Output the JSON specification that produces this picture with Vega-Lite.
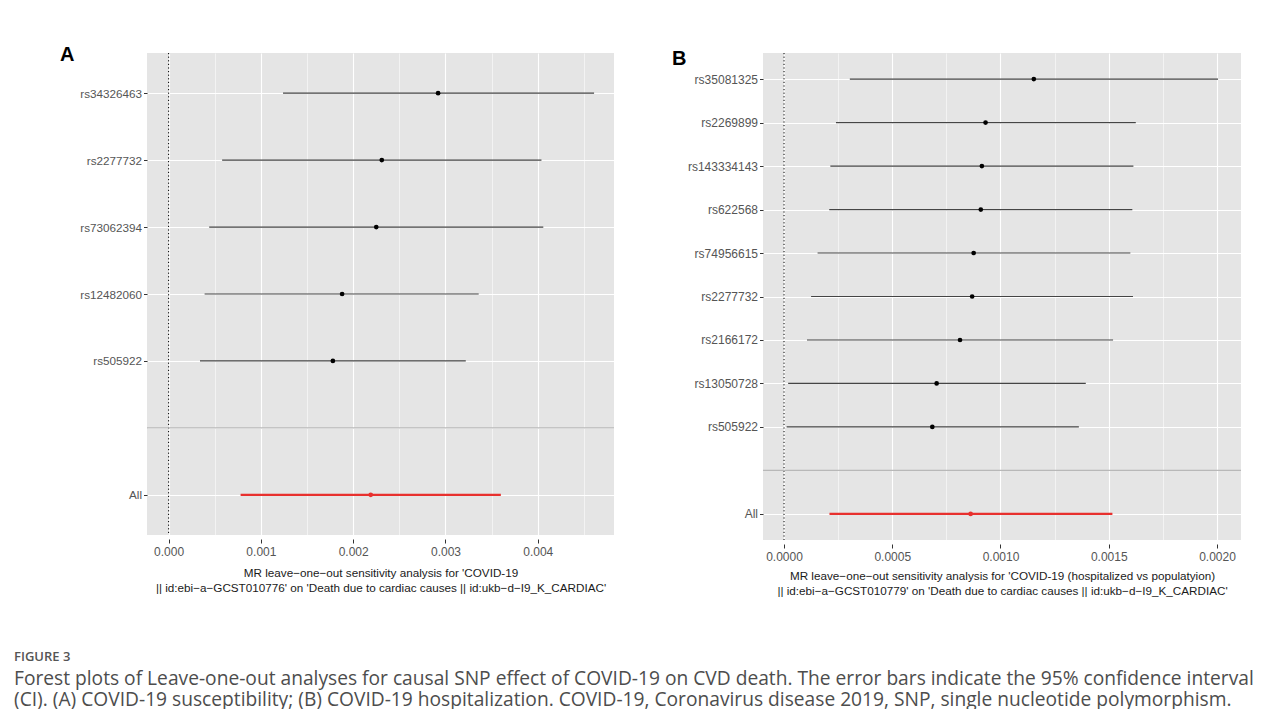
{
  "$schema": "https://vega.github.io/schema/vega-lite/v6.json",
  "background": "white",
  "padding": {"left": 14, "top": 44, "right": 0, "bottom": 0},
  "autosize": {"type": "pad"},
  "config": {
    "font": "Liberation Sans",
    "view": {"fill": "#E5E5E5", "stroke": null},
    "axis": {
      "domain": false,
      "grid": true,
      "gridColor": "#FFFFFF",
      "tickColor": "#333333",
      "labelColor": "#555555",
      "labelFont": "Liberation Sans",
      "titleFont": "Liberation Sans",
      "titleFontWeight": "normal",
      "titleColor": "#1a1a1a"
    },
    "title": {"font": "Liberation Sans", "color": "#000000"}
  },
  "datasets": {
    "a": [
      {"SNP": "rs34326463", "b": 0.00292, "lo": 0.00124, "hi": 0.00461, "group": "SNP"},
      {"SNP": "rs2277732", "b": 0.00231, "lo": 0.00058, "hi": 0.00404, "group": "SNP"},
      {"SNP": "rs73062394", "b": 0.00225, "lo": 0.00044, "hi": 0.00406, "group": "SNP"},
      {"SNP": "rs12482060", "b": 0.00188, "lo": 0.00039, "hi": 0.00336, "group": "SNP"},
      {"SNP": "rs505922", "b": 0.00178, "lo": 0.00034, "hi": 0.00322, "group": "SNP"},
      {"SNP": "All", "b": 0.00219, "lo": 0.00078, "hi": 0.0036, "group": "All"}
    ],
    "b": [
      {"SNP": "rs35081325", "b": 0.001154, "lo": 0.000304, "hi": 0.002005, "group": "SNP"},
      {"SNP": "rs2269899", "b": 0.000931, "lo": 0.00024, "hi": 0.001625, "group": "SNP"},
      {"SNP": "rs143334143", "b": 0.000914, "lo": 0.000214, "hi": 0.001614, "group": "SNP"},
      {"SNP": "rs622568", "b": 0.000909, "lo": 0.000209, "hi": 0.001609, "group": "SNP"},
      {"SNP": "rs74956615", "b": 0.000876, "lo": 0.000155, "hi": 0.0016, "group": "SNP"},
      {"SNP": "rs2277732", "b": 0.000869, "lo": 0.000125, "hi": 0.001612, "group": "SNP"},
      {"SNP": "rs2166172", "b": 0.000813, "lo": 0.000106, "hi": 0.00152, "group": "SNP"},
      {"SNP": "rs13050728", "b": 0.000705, "lo": 0.000019, "hi": 0.001394, "group": "SNP"},
      {"SNP": "rs505922", "b": 0.000685, "lo": 0.000012, "hi": 0.001362, "group": "SNP"},
      {"SNP": "All", "b": 0.000862, "lo": 0.00021, "hi": 0.001517, "group": "All"}
    ]
  },
  "title": {
    "text": "FIGURE 3",
    "subtitle": [
      "Forest plots of Leave-one-out analyses for causal SNP effect of COVID-19 on CVD death. The error bars indicate the 95% confidence interval",
      "(CI). (A) COVID-19 susceptibility; (B) COVID-19 hospitalization. COVID-19, Coronavirus disease 2019, SNP, single nucleotide polymorphism."
    ],
    "orient": "bottom",
    "anchor": "start",
    "frame": "bounds",
    "dx": -46,
    "offset": 54,
    "font": "Open Sans",
    "fontSize": 13,
    "fontWeight": 600,
    "color": "#555555",
    "subtitleFont": "Open Sans",
    "subtitleFontSize": 19.2,
    "subtitleColor": "#4d4d4d",
    "subtitleLineHeight": 21.5,
    "subtitlePadding": 6
  },
  "spacing": 57,
  "hconcat": [
    {
      "width": 467,
      "height": 482,
      "title": {"text": "A", "anchor": "start", "frame": "group", "dx": -87, "offset": -12, "fontSize": 20, "fontWeight": "bold"},
      "data": {"name": "a"},
      "layer": [
        {
          "transform": [{"filter": "datum.SNP == 'All'"}],
          "mark": {"type": "rule", "color": "#000000", "strokeWidth": 1, "strokeDash": [1.2, 2.4]},
          "encoding": {
            "x": {"datum": 0, "type": "quantitative", "scale": {"domain": [-0.000234, 0.004826], "nice": false, "zero": false}}
          }
        },
        {
          "mark": {"type": "rule"},
          "encoding": {
            "y": {"field": "SNP", "type": "nominal", "title": null,
              "scale": {"type": "point", "padding": 0.6, "domain": ["rs34326463", "rs2277732", "rs73062394", "rs12482060", "rs505922", "", "All"]},
              "axis": {"labelFontSize": 11.7, "tickSize": 3.5, "labelPadding": 2, "gridWidth": 1.1,
                "tickOpacity": {"condition": {"test": "datum.value === ''", "value": 0}, "value": 1}}},
            "x": {"field": "lo", "type": "quantitative",
              "scale": {"domain": [-0.000234, 0.004826], "nice": false, "zero": false},
              "axis": {
                "title": ["MR leave−one−out sensitivity analysis for 'COVID-19", "|| id:ebi−a−GCST010776' on 'Death due to cardiac causes || id:ukb−d−I9_K_CARDIAC'"],
                "values": [0, 0.0005, 0.001, 0.0015, 0.002, 0.0025, 0.003, 0.0035, 0.004, 0.0045],
                "labelExpr": "abs(datum.value*1000 - round(datum.value*1000)) < 0.01 ? format(datum.value, '.3f') : ''",
                "labelFlush": false,
                "labelOverlap": false,
                "labelFontSize": 12,
                "labelPadding": 3,
                "offset": 4,
                "tickSize": 4,
                "tickOpacity": {"condition": {"test": "abs(datum.value*1000 - round(datum.value*1000)) < 0.01", "value": 1}, "value": 0},
                "gridWidth": {"condition": {"test": "abs(datum.value*1000 - round(datum.value*1000)) < 0.01", "value": 1.1}, "value": 0.55},
                "titleFontSize": 11.7,
                "titleLineHeight": 15.5,
                "titlePadding": 10
              }},
            "x2": {"field": "hi"},
            "stroke": {"field": "group", "type": "nominal", "scale": {"domain": ["SNP", "All"], "range": ["#454545", "#E8302E"]}, "legend": null},
            "strokeWidth": {"field": "group", "type": "ordinal", "scale": {"domain": ["SNP", "All"], "range": [1.2, 2.4]}, "legend": null}
          }
        },
        {
          "mark": {"type": "circle", "size": 22, "opacity": 1},
          "encoding": {
            "y": {"field": "SNP", "type": "nominal", "scale": {"type": "point", "padding": 0.6, "domain": ["rs34326463", "rs2277732", "rs73062394", "rs12482060", "rs505922", "", "All"]}},
            "x": {"field": "b", "type": "quantitative", "scale": {"domain": [-0.000234, 0.004826], "nice": false, "zero": false}},
            "fill": {"field": "group", "type": "nominal", "scale": {"domain": ["SNP", "All"], "range": ["#000000", "#E8302E"]}, "legend": null}
          }
        },
        {
          "transform": [{"filter": "datum.SNP == 'All'"}],
          "mark": {"type": "rule", "color": "#B8B8B8", "strokeWidth": 1.2},
          "encoding": {
            "y": {"datum": "", "type": "nominal", "scale": {"type": "point", "padding": 0.6, "domain": ["rs34326463", "rs2277732", "rs73062394", "rs12482060", "rs505922", "", "All"]}}
          }
        }
      ]
    },
    {
      "width": 478,
      "height": 487,
      "title": {"text": "B", "anchor": "start", "frame": "group", "dx": -91, "offset": -16, "fontSize": 20, "fontWeight": "bold"},
      "data": {"name": "b"},
      "layer": [
        {
          "transform": [{"filter": "datum.SNP == 'All'"}],
          "mark": {"type": "rule", "color": "#000000", "strokeWidth": 1, "strokeDash": [1.2, 2.4]},
          "encoding": {
            "x": {"datum": 0, "type": "quantitative", "scale": {"domain": [-0.0000971, 0.002111], "nice": false, "zero": false}}
          }
        },
        {
          "mark": {"type": "rule"},
          "encoding": {
            "y": {"field": "SNP", "type": "nominal", "title": null,
              "scale": {"type": "point", "padding": 0.6, "domain": ["rs35081325", "rs2269899", "rs143334143", "rs622568", "rs74956615", "rs2277732", "rs2166172", "rs13050728", "rs505922", "", "All"]},
              "axis": {"labelFontSize": 12, "tickSize": 3.5, "labelPadding": 2, "gridWidth": 1.1,
                "tickOpacity": {"condition": {"test": "datum.value === ''", "value": 0}, "value": 1}}},
            "x": {"field": "lo", "type": "quantitative",
              "scale": {"domain": [-0.0000971, 0.002111], "nice": false, "zero": false},
              "axis": {
                "title": ["MR leave−one−out sensitivity analysis for 'COVID-19 (hospitalized vs populatyion)", "|| id:ebi−a−GCST010779' on 'Death due to cardiac causes || id:ukb−d−I9_K_CARDIAC'"],
                "values": [0, 0.00025, 0.0005, 0.00075, 0.001, 0.00125, 0.0015, 0.00175, 0.002],
                "labelExpr": "abs(datum.value*2000 - round(datum.value*2000)) < 0.01 ? format(datum.value, '.4f') : ''",
                "labelFlush": false,
                "labelOverlap": false,
                "labelFontSize": 12,
                "labelPadding": 3,
                "offset": 4,
                "tickSize": 4,
                "tickOpacity": {"condition": {"test": "abs(datum.value*2000 - round(datum.value*2000)) < 0.01", "value": 1}, "value": 0},
                "gridWidth": {"condition": {"test": "abs(datum.value*2000 - round(datum.value*2000)) < 0.01", "value": 1.1}, "value": 0.55},
                "titleFontSize": 11.7,
                "titleLineHeight": 15,
                "titlePadding": 8
              }},
            "x2": {"field": "hi"},
            "stroke": {"field": "group", "type": "nominal", "scale": {"domain": ["SNP", "All"], "range": ["#454545", "#E8302E"]}, "legend": null},
            "strokeWidth": {"field": "group", "type": "ordinal", "scale": {"domain": ["SNP", "All"], "range": [1.2, 2.4]}, "legend": null}
          }
        },
        {
          "mark": {"type": "circle", "size": 22, "opacity": 1},
          "encoding": {
            "y": {"field": "SNP", "type": "nominal", "scale": {"type": "point", "padding": 0.6, "domain": ["rs35081325", "rs2269899", "rs143334143", "rs622568", "rs74956615", "rs2277732", "rs2166172", "rs13050728", "rs505922", "", "All"]}},
            "x": {"field": "b", "type": "quantitative", "scale": {"domain": [-0.0000971, 0.002111], "nice": false, "zero": false}},
            "fill": {"field": "group", "type": "nominal", "scale": {"domain": ["SNP", "All"], "range": ["#000000", "#E8302E"]}, "legend": null}
          }
        },
        {
          "transform": [{"filter": "datum.SNP == 'All'"}],
          "mark": {"type": "rule", "color": "#B8B8B8", "strokeWidth": 1.2},
          "encoding": {
            "y": {"datum": "", "type": "nominal", "scale": {"type": "point", "padding": 0.6, "domain": ["rs35081325", "rs2269899", "rs143334143", "rs622568", "rs74956615", "rs2277732", "rs2166172", "rs13050728", "rs505922", "", "All"]}}
          }
        }
      ]
    }
  ]
}
